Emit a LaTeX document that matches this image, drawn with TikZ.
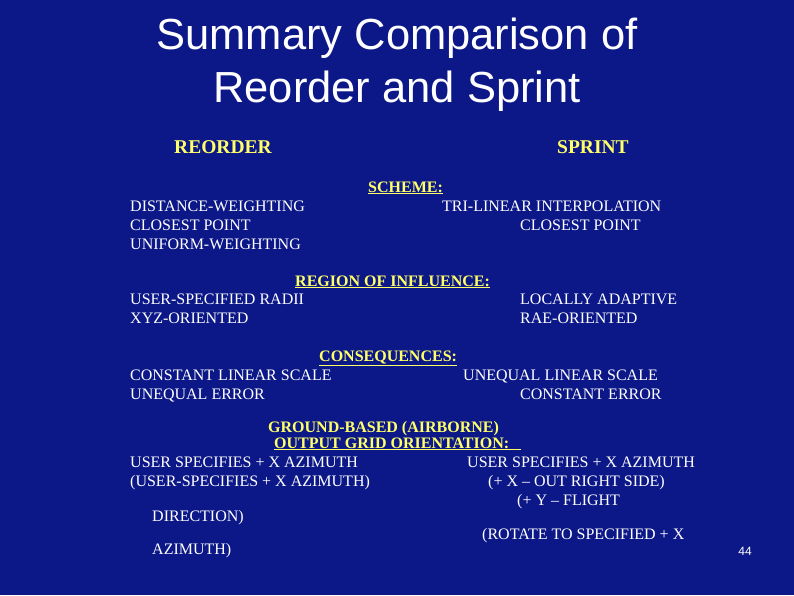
\documentclass[tikz,border=0pt]{standalone}
\usepackage{fontspec}
\setmainfont{Liberation Serif}
\newfontfamily\ttl{Liberation Sans}
\definecolor{bg}{RGB}{12,24,136}
\definecolor{yel}{RGB}{255,255,102}
\begin{document}
\begin{tikzpicture}[x=1pt,y=-1pt,
 t/.style={anchor=base west,inner sep=0pt,text=white,font=\fontsize{16}{17}\selectfont},
 h/.style={t,text=yel,font=\bfseries\fontsize{16}{17}\selectfont},
 hh/.style={t,text=yel,font=\bfseries\fontsize{19.5}{21}\selectfont},
 tl/.style={anchor=base,inner sep=0pt,text=white,font=\ttl\fontsize{43.5}{46}\selectfont}]
\fill[bg] (0,0) rectangle (794,595);
\useasboundingbox (0,0) rectangle (794,595);
\node[tl] (t1) at (397,49) {Summary Comparison of};
\node[tl] (t2) at (397,102) {Reorder and Sprint};
\node[hh] (r) at (174,153) {REORDER};
\node[hh] (s) at (557,153) {SPRINT};
\node[h] (sc) at (368,192) {\underline{SCHEME:}};
\node[t] (a1) at (130,211) {DISTANCE-WEIGHTING};
\node[t] (a2) at (130,230) {CLOSEST POINT};
\node[t] (a3) at (130,249) {UNIFORM-WEIGHTING};
\node[t] (b1) at (442,211) {TRI-LINEAR INTERPOLATION};
\node[t] (b2) at (520,230) {CLOSEST POINT};
\node[h] (ri) at (295,286) {\underline{REGION OF INFLUENCE:}};
\node[t] (c1) at (130,304) {USER-SPECIFIED RADII};
\node[t] (c2) at (130,323) {XYZ-ORIENTED};
\node[t] (d1) at (520,304) {LOCALLY ADAPTIVE};
\node[t] (d2) at (520,323) {RAE-ORIENTED};
\node[h] (co) at (319,361) {\underline{CONSEQUENCES:}};
\node[t] (e1) at (130,380) {CONSTANT LINEAR SCALE};
\node[t] (e2) at (130,399) {UNEQUAL ERROR};
\node[t] (f1) at (463,380) {UNEQUAL LINEAR SCALE};
\node[t] (f2) at (520,399) {CONSTANT ERROR};
\node[h] (g1) at (268,432) {GROUND-BASED (AIRBORNE)};
\node[h] (g2) at (274,448) {\underline{OUTPUT GRID ORIENTATION:\ \ \ }};
\node[t] (h1) at (130,467) {USER SPECIFIES + X AZIMUTH};
\node[t] (h2) at (130,486) {(USER-SPECIFIES + X AZIMUTH)};
\node[t] (h3) at (152,521) {DIRECTION)};
\node[t] (h4) at (152,554) {AZIMUTH)};
\node[t] (i1) at (467,467) {USER SPECIFIES + X AZIMUTH};
\node[t] (i2) at (488,486) {(+ X -- OUT RIGHT SIDE)};
\node[t] (i3) at (517,505) {(+ Y -- FLIGHT};
\node[t] (i4) at (482,539) {(ROTATE TO SPECIFIED + X};
\node[anchor=base,inner sep=0pt,text=white,font=\ttl\fontsize{12}{13}\selectfont] (n) at (745,555) {44};
\end{tikzpicture}
\end{document}
